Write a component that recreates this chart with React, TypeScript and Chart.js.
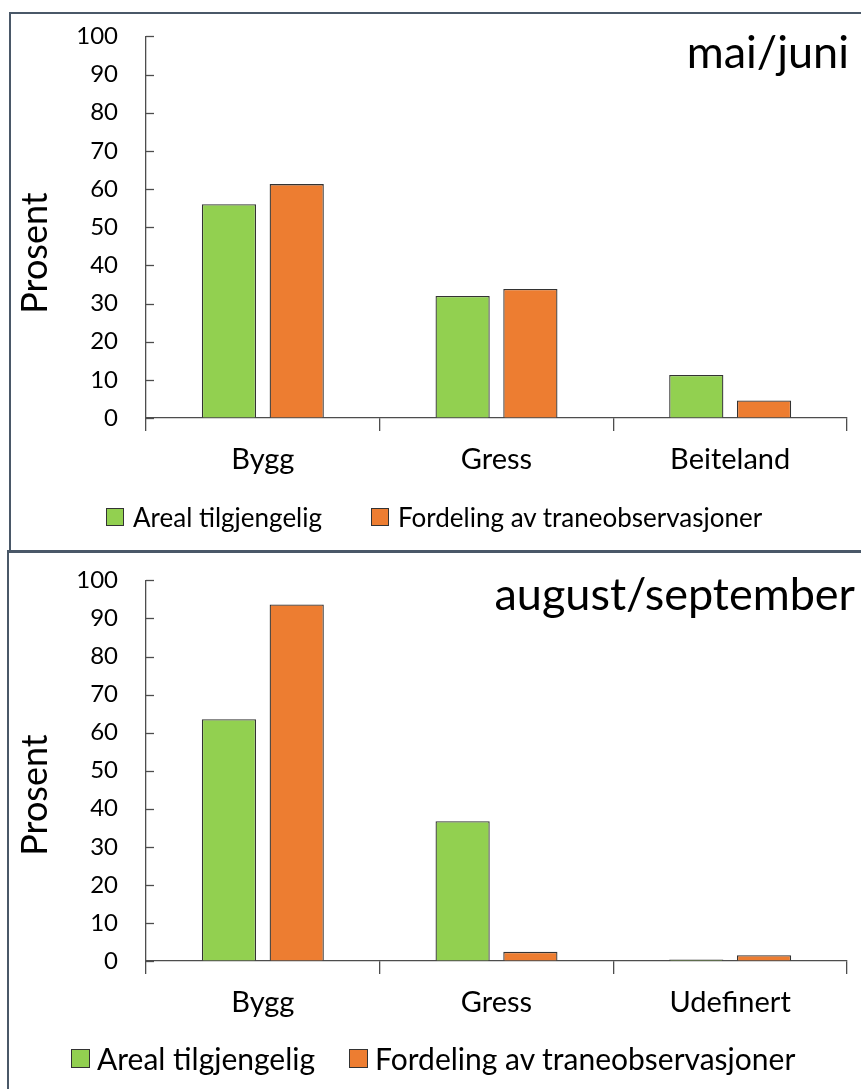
import { useEffect, useRef } from "react";
import { Chart, registerables } from "chart.js";

Chart.register(...registerables);

// Series and categories
const seriesNames = ["Areal tilgjengelig", "Fordeling av traneobservasjoner"];
const seriesColors = ["#92D050", "#ED7D31"];

const springTitle = "mai/juni";
const springCategories = ["Bygg", "Gress", "Beiteland"];
const springAreal = [56, 32, 11.3];
const springCranes = [61.3, 33.8, 4.6];

const autumnTitle = "august/september";
const autumnCategories = ["Bygg", "Gress", "Udefinert"];
const autumnAreal = [63.5, 36.7, 0.4];
const autumnCranes = [93.7, 2.4, 1.5];

const yAxisTitle = "Prosent";
const yMin = 0;
const yMax = 100;
const yStep = 10;

const FONT = "Lato, 'Open Sans', sans-serif";
const AXIS_COLOR = "#4d4d4d";
const BAR_BORDER = "#333333";
const FRAME_COLOR = "#4a5868";

type PanelLayout = {
  top: number;
  height: number;
  chartBottom: number;
  tickFont: number;
  catFont: number;
  catPadding: number;
  titleSize: number;
  titleRight: number;
  titleBaseline: number;
  yTitleSize: number;
  yTitleBaselineX: number;
  yTitleCenterY: number;
  legendLeft: number;
  legendPageY: number;
  legendFont: number;
  legendBox: number;
  legendBoxGap: number;
  legendItemGap: number;
};

// Draws the panel heading, the rotated axis title and the inward y tick marks
const panelDecor = {
  id: "panelDecor",
  afterDraw(chart: any, _args: any, opts: any) {
    const { ctx } = chart;
    const y = chart.scales.y;
    ctx.save();
    ctx.strokeStyle = AXIS_COLOR;
    ctx.lineWidth = 1.3;
    y.ticks.forEach((_t: any, i: number) => {
      const py = Math.round(y.getPixelForTick(i)) + 0.5;
      ctx.beginPath();
      ctx.moveTo(y.right, py);
      ctx.lineTo(y.right + 8, py);
      ctx.stroke();
    });

    ctx.fillStyle = "#000";
    ctx.font = `${opts.titleSize}px ${FONT}`;
    ctx.textAlign = "right";
    ctx.textBaseline = "alphabetic";
    ctx.fillText(opts.title, opts.titleRight, opts.titleBaseline);

    ctx.translate(opts.yTitleBaselineX, opts.yTitleCenterY);
    ctx.rotate(-Math.PI / 2);
    ctx.font = `${opts.yTitleSize}px ${FONT}`;
    ctx.textAlign = "center";
    ctx.textBaseline = "alphabetic";
    ctx.fillText(opts.yTitle, 0, 0);
    ctx.restore();
  },
};

function Legend({ L }: { L: PanelLayout }) {
  const lh = Math.round(L.legendFont * 1.2);
  return (
    <div
      style={{
        position: "absolute",
        left: L.legendLeft,
        top: L.legendPageY - lh / 2,
        height: lh,
        display: "flex",
        alignItems: "center",
        fontFamily: FONT,
        fontSize: L.legendFont,
        lineHeight: `${lh}px`,
        color: "#000",
        whiteSpace: "nowrap",
      }}
    >
      {seriesNames.map((name, i) => (
        <div
          key={name}
          style={{
            display: "flex",
            alignItems: "center",
            marginRight: i === 0 ? L.legendItemGap : 0,
          }}
        >
          <span
            style={{
              display: "inline-block",
              width: L.legendBox,
              height: L.legendBox,
              boxSizing: "border-box",
              border: `1.3px solid ${BAR_BORDER}`,
              background: seriesColors[i],
              marginRight: L.legendBoxGap,
            }}
          />
          <span>{name}</span>
        </div>
      ))}
    </div>
  );
}

function Panel(props: {
  title: string;
  categories: string[];
  areal: number[];
  cranes: number[];
  layout: PanelLayout;
}) {
  const ref = useRef<HTMLCanvasElement>(null);
  const { title, categories, areal, cranes, layout: L } = props;

  useEffect(() => {
    if (!ref.current) return;
    const chart = new Chart(ref.current, {
      type: "bar",
      data: {
        labels: categories,
        datasets: [
          {
            label: seriesNames[0],
            data: areal,
            backgroundColor: seriesColors[0],
            borderColor: BAR_BORDER,
            borderWidth: 1.3,
          },
          {
            label: seriesNames[1],
            data: cranes,
            backgroundColor: seriesColors[1],
            borderColor: BAR_BORDER,
            borderWidth: 1.3,
          },
        ],
      },
      options: {
        responsive: false,
        animation: false,
        events: [],
        datasets: {
          bar: { categoryPercentage: 0.58, barPercentage: 0.8 },
        },
        layout: {
          padding: { left: 18, right: 14, top: 20, bottom: 0 },
        },
        scales: {
          x: {
            grid: {
              offset: true,
              drawOnChartArea: false,
              drawTicks: true,
              tickLength: 13,
              color: AXIS_COLOR,
              lineWidth: 1.3,
            },
            border: { color: AXIS_COLOR, width: 1.3 },
            ticks: {
              color: "#000",
              font: { family: FONT, size: L.catFont },
              padding: L.catPadding,
              maxRotation: 0,
            },
            afterFit: (axis: any) => {
              axis.height = L.height - L.chartBottom;
            },
          },
          y: {
            min: yMin,
            max: yMax,
            grid: { display: true, drawOnChartArea: false, drawTicks: false },
            border: { color: AXIS_COLOR, width: 1.3 },
            ticks: {
              stepSize: yStep,
              color: "#000",
              font: { family: FONT, size: L.tickFont },
              padding: 28,
            },
            afterFit: (axis: any) => {
              axis.width = 128;
            },
          },
        },
        plugins: {
          legend: { display: false },
          tooltip: { enabled: false },
          panelDecor: {
            title,
            titleSize: L.titleSize,
            titleRight: L.titleRight,
            titleBaseline: L.titleBaseline,
            yTitle: yAxisTitle,
            yTitleSize: L.yTitleSize,
            yTitleBaselineX: L.yTitleBaselineX,
            yTitleCenterY: L.yTitleCenterY,
          },
        } as any,
      },
      plugins: [panelDecor],
    });
    return () => chart.destroy();
  }, []);

  return (
    <>
      <div
        style={{
          position: "absolute",
          left: 0,
          top: L.top,
          width: 861,
          height: L.height,
        }}
      >
        <canvas ref={ref} width={861} height={L.height} style={{ display: "block" }} />
      </div>
      <Legend L={L} />
    </>
  );
}

// Canvas-local coordinates below; each canvas starts at `top` on the page
const springLayout: PanelLayout = {
  top: -6,
  height: 557,
  chartBottom: 424,
  tickFont: 24,
  catFont: 29,
  catPadding: 11,
  titleSize: 45,
  titleRight: 849,
  titleBaseline: 74,
  yTitleSize: 36,
  yTitleBaselineX: 47,
  yTitleCenterY: 259,
  legendLeft: 106,
  legendPageY: 517,
  legendFont: 26,
  legendBox: 18,
  legendBoxGap: 9,
  legendItemGap: 49,
};

const autumnLayout: PanelLayout = {
  top: 538,
  height: 551,
  chartBottom: 423,
  tickFont: 24,
  catFont: 29,
  catPadding: 11,
  titleSize: 45,
  titleRight: 855,
  titleBaseline: 72,
  yTitleSize: 36,
  yTitleBaselineX: 47,
  yTitleCenterY: 257,
  legendLeft: 71,
  legendPageY: 1058,
  legendFont: 30,
  legendBox: 19,
  legendBoxGap: 7,
  legendItemGap: 34,
};

export default function App() {
  return (
    <div
      style={{
        position: "absolute",
        left: 0,
        top: 0,
        width: 861,
        height: 1089,
        overflow: "hidden",
        background: "#fff",
      }}
    >
      <div
        style={{
          position: "absolute",
          left: 9,
          top: 12,
          width: 900,
          height: 541,
          border: `2px solid ${FRAME_COLOR}`,
          boxSizing: "border-box",
        }}
      />
      <div
        style={{
          position: "absolute",
          left: 7,
          top: 550,
          width: 900,
          height: 600,
          border: `2px solid ${FRAME_COLOR}`,
          boxSizing: "border-box",
        }}
      />
      <Panel
        title={springTitle}
        categories={springCategories}
        areal={springAreal}
        cranes={springCranes}
        layout={springLayout}
      />
      <Panel
        title={autumnTitle}
        categories={autumnCategories}
        areal={autumnAreal}
        cranes={autumnCranes}
        layout={autumnLayout}
      />
    </div>
  );
}
